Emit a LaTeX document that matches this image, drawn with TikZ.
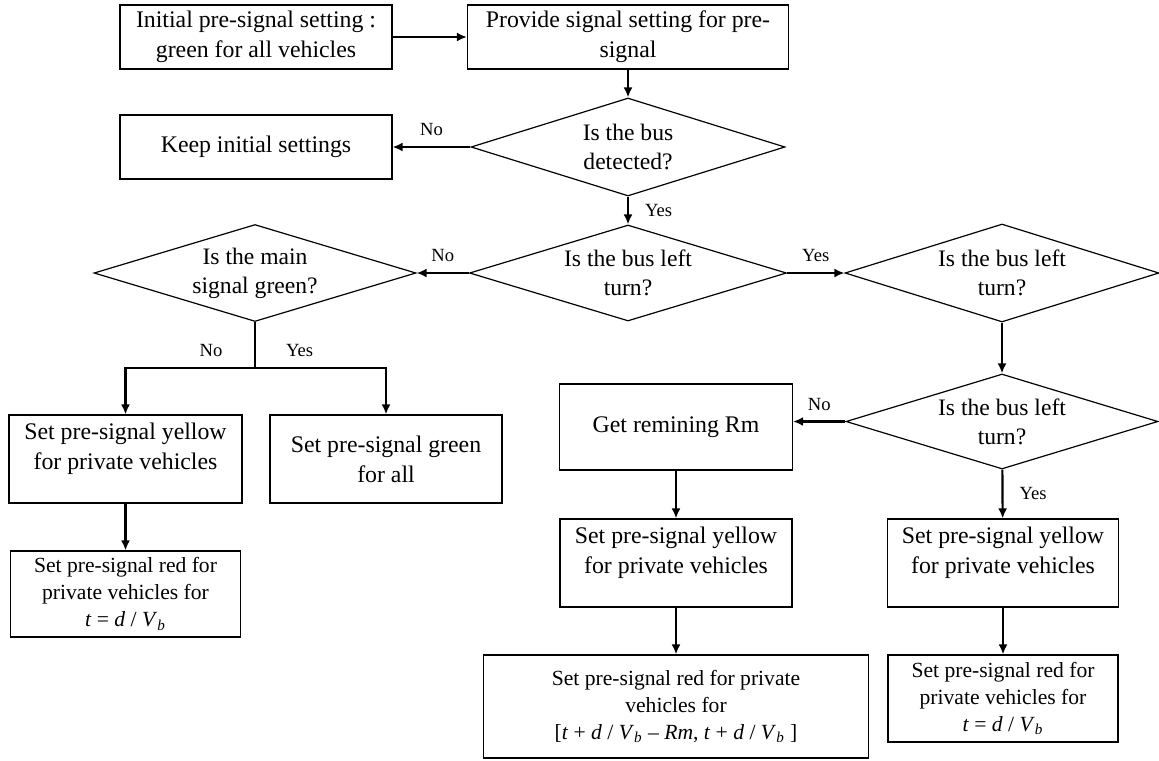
\documentclass[tikz,border=0pt]{standalone}
\usepackage{fontspec}
\setmainfont{Liberation Serif}
\usetikzlibrary{shapes.geometric,arrows.meta}

\begin{document}
\begin{tikzpicture}[x=0.5pt,y=-0.5pt,auto,
    box node/.style={rectangle,draw,line width=0.6pt,align=center,inner sep=2pt,font=\fontsize{11.9}{15}\selectfont},
    red node/.style={box node,font=\fontsize{10.8}{13.5}\selectfont},
    test node/.style={diamond,draw,line width=0.6pt,align=center,inner sep=0pt,aspect=3.2,font=\fontsize{11.8}{14.5}\selectfont},
    answer/.style={font=\fontsize{9.3}{11}\selectfont,inner sep=5pt},
    flow/.style={line width=1.1pt,-{Latex[length=5pt,width=4.5pt]}}]
                    \useasboundingbox (0,0) rectangle (1159,760);

                    \node[box node,minimum width=136pt,minimum height=32pt] at (256,37) (init) {Initial pre-signal setting :\\green for all vehicles};
                    \node[box node,minimum width=160.5pt,minimum height=32pt] at (628,37) (provide) {Provide signal setting for pre-\\signal};
                    \node[test node,minimum width=157pt,minimum height=49pt] at (628,147) (detect) {Is the bus\\detected?};
                    \node[box node,minimum width=136pt,minimum height=32pt] at (256,147) (keep) {Keep initial settings};
                    \node[test node,minimum width=161pt,minimum height=48.5pt] at (255,273) (main) {Is the main\\signal green?};
                    \node[test node,minimum width=158.5pt,minimum height=48pt] at (628,273) (turn1) {Is the bus left\\turn?};
                    \node[test node,minimum width=157pt,minimum height=49pt] at (1002,273) (turn2) {Is the bus left\\turn?};
                    \node[test node,minimum width=156pt,minimum height=47.5pt] at (1002,421.5) (turn3) {Is the bus left\\turn?};
                    \node[box node,minimum width=116.5pt,minimum height=44pt] at (125.5,459) (yellow1) {Set pre-signal yellow\\for private vehicles\\[-2pt]\mbox{}};
                    \node[box node,minimum width=116pt,minimum height=44pt] at (386,459) (green) {Set pre-signal green\\for all};
                    \node[red node,minimum width=115pt,minimum height=43pt] at (125.5,594) (red1) {Set pre-signal red for\\private vehicles for\\\textit{t} = \textit{d} / \textit{V}\textsubscript{\textit{b}}};
                    \node[box node,minimum width=116.5pt,minimum height=43pt] at (676,427) (remain) {Get remining Rm};
                    \node[box node,minimum width=116pt,minimum height=44pt] at (676,563) (yellow2) {Set pre-signal yellow\\for private vehicles\\[-2pt]\mbox{}};
                    \node[red node,minimum width=192.5pt,minimum height=51.5pt] at (676,706.5) (red2) {Set pre-signal red for private\\vehicles for\\{[}\textit{t} + \textit{d} / \textit{V}\textsubscript{\textit{b}} -- \textit{Rm}, \textit{t} + \textit{d} / \textit{V}\textsubscript{\textit{b}} ]};
                    \node[box node,minimum width=115.5pt,minimum height=44pt] at (1003,563) (yellow3) {Set pre-signal yellow\\for private vehicles\\[-2pt]\mbox{}};
                    \node[red node,minimum width=115pt,minimum height=43.5pt] at (1003,698.5) (red3) {Set pre-signal red for\\private vehicles for\\\textit{t} = \textit{d} / \textit{V}\textsubscript{\textit{b}}};
                    \coordinate (fork) at (255,368);

                    \path[flow] (init) edge (provide);
                    \path[flow] (provide) edge (detect);
                    \path[flow] (detect) edge node[answer,above] {No} (keep);
                    \path[flow] (detect) edge node[answer,right,xshift=3pt] {Yes} (turn1);
                    \path[flow] (turn1) edge node[answer,above] {No} (main);
                    \path[flow] (turn1) edge node[answer,above] {Yes} (turn2);
                    \path[flow] (turn2) edge (turn3);
                    \path[flow] (turn3.west) edge node[answer,above] {No} (turn3.west -| remain.east);
                    \path[flow] (turn3) edge node[answer,right,xshift=3pt] {Yes} (yellow3);
                    \draw[line width=1.1pt] (main.south) -- (fork);
                    \draw[flow] (fork) -| node[answer,above,pos=0.17] {No} (yellow1.north);
                    \draw[flow] (fork) -| node[answer,above,pos=0.17] {Yes} (green.north);
                    \path[flow] (yellow1) edge (red1);
                    \path[flow] (remain) edge (yellow2);
                    \path[flow] (yellow2) edge (red2);
                    \path[flow] (yellow3) edge (red3);
                \end{tikzpicture}
\end{document}
